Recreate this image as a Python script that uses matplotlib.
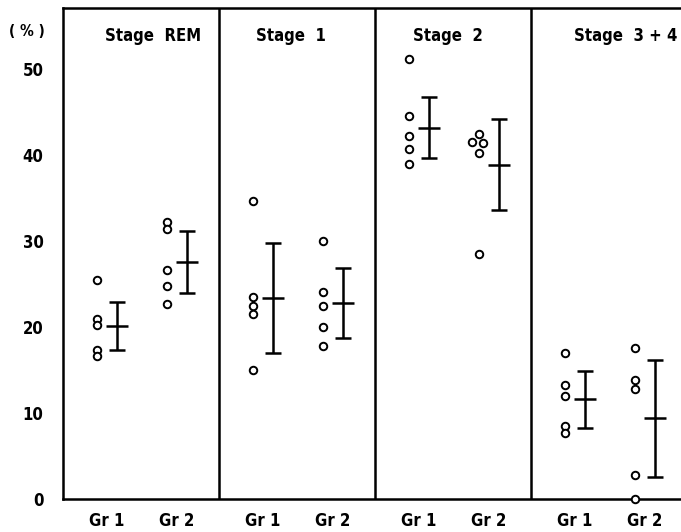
import matplotlib
matplotlib.use("Agg")
import matplotlib.pyplot as plt
from matplotlib import font_manager

# ---------------------------------------------------------------- data
stages = ["Stage  REM", "Stage  1", "Stage  2", "Stage  3 + 4"]
groups = ["Gr 1", "Gr 2"]
y_ticks = [0, 10, 20, 30, 40, 50]

rem_gr1 = [25.5, 20.9, 20.2, 17.3, 16.6]
rem_gr2 = [32.2, 31.4, 26.6, 24.8, 22.7]
s1_gr1 = [34.7, 23.5, 22.4, 21.5, 15.0]
s1_gr2 = [30.0, 24.1, 22.4, 20.0, 17.8]
s2_gr1 = [51.2, 44.5, 42.2, 40.7, 39.0]
s2_gr2 = [42.5, 41.5, 41.4, 40.2, 28.5]
s34_gr1 = [17.0, 13.2, 12.0, 8.5, 7.7]
s34_gr2 = [17.6, 13.8, 12.8, 2.8, 0.0]

means_gr1 = [20.1, 23.4, 43.2, 11.6]
means_gr2 = [27.6, 22.8, 38.9, 9.4]
sd_gr1 = [2.8, 6.4, 3.5, 3.3]
sd_gr2 = [3.6, 4.1, 5.3, 6.8]

points = [[rem_gr1, rem_gr2], [s1_gr1, s1_gr2], [s2_gr1, s2_gr2], [s34_gr1, s34_gr2]]
means = [means_gr1, means_gr2]
sds = [sd_gr1, sd_gr2]

# ---------------------------------------------------------------- layout
W, H = 681, 532
GROUP_POS = [0.28, 0.73]      # group position inside a panel (panel = 1 unit)
DOT_OFF, BAR_OFF = -0.065, 0.065
TITLE_X = [0.58, 1.46, 2.47, 3.61]
# small horizontal dodge for overlapping circles (Stage 2, Gr 2)
DODGE = {(2, 1): [0.0, -0.045, 0.03, 0.0, 0.0]}

# condensed bold face if it is installed, else plain DejaVu Sans Bold
cond = [f.fname for f in font_manager.fontManager.ttflist
        if f.name == "DejaVu Sans" and f.stretch == "condensed" and f.weight == 700]
FP = dict(fontproperties=font_manager.FontProperties(fname=cond[0])) if cond else \
    dict(family="DejaVu Sans", weight="bold")
SIZE = 12 if cond else 10.5

fig = plt.figure(figsize=(W / 100, H / 100), dpi=100)
ax = fig.add_axes([63 / W, 33 / H, (W - 63) / W, 491 / H])
ax.set_xlim(0, (W - 63) / 156)
ax.set_ylim(0, 57.1)

for spine in ("left", "bottom", "top"):
    ax.spines[spine].set_linewidth(1.8)
ax.spines["right"].set_visible(False)
for d in (1, 2, 3):
    ax.axvline(d, color="black", lw=1.8)


def styled(t):
    if cond:
        t.set_fontproperties(font_manager.FontProperties(fname=cond[0]))
    else:
        t.set_fontfamily("DejaVu Sans")
        t.set_fontweight("bold")
    t.set_fontsize(SIZE)
    return t


for i, stage in enumerate(stages):
    styled(ax.text(TITLE_X[i], 53.8, stage, ha="center", va="center"))
    for g in range(2):
        xc = i + GROUP_POS[g]
        vals = points[i][g]
        dodge = DODGE.get((i, g), [0.0] * len(vals))
        ax.plot([xc + DOT_OFF + d for d in dodge], vals, "o", ms=5.4, mfc="white",
                mec="black", mew=1.4, ls="none", clip_on=False, zorder=5)
        ax.errorbar(xc + BAR_OFF, means[g][i], yerr=sds[g][i], fmt="_", ms=16,
                    mew=1.8, color="black", elinewidth=1.8, capsize=5.5, capthick=1.6)

ax.set_yticks(y_ticks)
ax.set_yticklabels([str(t) for t in y_ticks])
ax.set_xticks([i + p for i in range(4) for p in GROUP_POS])
ax.set_xticklabels(groups * 4)
ax.tick_params(axis="y", length=0, pad=14)
ax.tick_params(axis="x", length=0, pad=9)
for lab in ax.get_xticklabels() + ax.get_yticklabels():
    styled(lab)

pct = styled(fig.text(27 / W, 1 - 32 / H, "( % )", ha="center", va="center"))
pct.set_fontsize(SIZE - 1)

fig.savefig("out.png", dpi=100)
